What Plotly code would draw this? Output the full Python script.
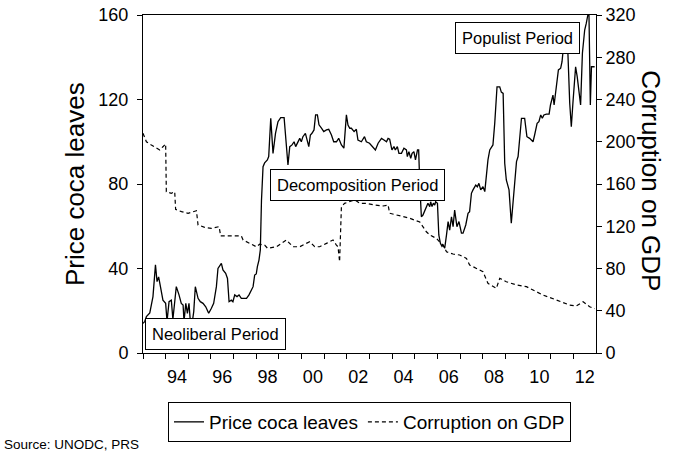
import plotly.graph_objects as go

# ---------------- data ----------------
price_year = [
    1993.00, 1993.08, 1993.15, 1993.30, 1993.44, 1993.55, 1993.62, 1993.69, 1993.77, 1993.88,
    1994.00, 1994.06, 1994.15, 1994.25, 1994.32, 1994.47, 1994.59, 1994.69, 1994.77, 1994.81,
    1994.89, 1994.96, 1995.03, 1995.09, 1995.18, 1995.24, 1995.31, 1995.43, 1995.53, 1995.65,
    1995.77, 1995.90, 1996.02, 1996.12, 1996.24, 1996.31, 1996.46, 1996.53, 1996.65, 1996.73,
    1996.80, 1996.90, 1996.97, 1997.05, 1997.15, 1997.24, 1997.34, 1997.45, 1997.57, 1997.68,
    1997.75, 1997.86, 1997.93, 1998.00, 1998.05, 1998.12, 1998.18, 1998.23, 1998.30, 1998.37,
    1998.49, 1998.55, 1998.64, 1998.74, 1998.85, 1998.96, 1999.08, 1999.23, 1999.40, 1999.48,
    1999.58, 1999.67, 1999.74, 1999.84, 1999.92, 1999.99, 2000.06, 2000.17, 2000.26, 2000.32,
    2000.39, 2000.46, 2000.55, 2000.62, 2000.70, 2000.77, 2000.88, 2000.98, 2001.10, 2001.20,
    2001.32, 2001.42, 2001.54, 2001.64, 2001.76, 2001.87, 2001.98, 2002.05, 2002.13, 2002.20,
    2002.32, 2002.42, 2002.49, 2002.64, 2002.78, 2002.86, 2003.00, 2003.15, 2003.26, 2003.38,
    2003.53, 2003.64, 2003.75, 2003.82, 2003.89, 2003.99, 2004.08, 2004.14, 2004.23, 2004.30,
    2004.41, 2004.52, 2004.63, 2004.67, 2004.74, 2004.82, 2004.88, 2004.96, 2005.03, 2005.12,
    2005.17, 2005.22, 2005.29, 2005.36, 2005.44, 2005.51, 2005.58, 2005.66, 2005.70, 2005.76,
    2005.82, 2005.88, 2005.92, 2006.00, 2006.06, 2006.13, 2006.20, 2006.25, 2006.32, 2006.40,
    2006.47, 2006.54, 2006.62, 2006.69, 2006.76, 2006.86, 2006.95, 2007.06, 2007.13, 2007.25,
    2007.35, 2007.42, 2007.50, 2007.57, 2007.69, 2007.76, 2007.83, 2007.91, 2008.01, 2008.09,
    2008.16, 2008.23, 2008.31, 2008.45, 2008.53, 2008.63, 2008.75, 2008.82, 2008.90, 2008.97,
    2009.04, 2009.16, 2009.26, 2009.34, 2009.41, 2009.49, 2009.56, 2009.63, 2009.71, 2009.85,
    2009.95, 2010.07, 2010.22, 2010.29, 2010.40, 2010.48, 2010.56, 2010.63, 2010.70, 2010.81,
    2010.93, 2010.99, 2011.06, 2011.10, 2011.15, 2011.22, 2011.28, 2011.34, 2011.44, 2011.50,
    2011.55, 2011.62, 2011.69, 2011.76, 2011.84, 2011.91, 2011.98, 2012.05, 2012.10, 2012.17,
    2012.24, 2012.32, 2012.40, 2012.50, 2012.57, 2012.64, 2012.69, 2012.75, 2012.80, 2012.94,
]
price_coca = [
    14.0, 15.0, 17.2, 19.0, 26.7, 41.7, 33.8, 36.0, 31.4, 25.0,
    23.5, 15.0, 24.3, 25.0, 16.0, 31.4, 27.5, 23.5, 22.7, 15.0,
    23.5, 18.8, 23.5, 15.0, 15.0, 19.6, 31.4, 25.9, 24.3, 23.5,
    21.9, 18.8, 21.2, 23.5, 31.4, 40.0, 42.4, 39.3, 37.7, 35.3,
    24.3, 25.0, 24.3, 27.5, 26.7, 27.5, 25.9, 25.9, 25.9, 27.5,
    29.0, 31.4, 36.9, 37.4, 40.9, 44.0, 48.8, 72.0, 88.2, 90.0,
    91.4, 93.0, 111.1, 94.5, 104.0, 109.5, 111.4, 111.4, 89.0, 97.7,
    98.5, 100.0, 97.7, 100.0, 101.6, 100.0, 102.4, 104.0, 100.8, 97.7,
    103.2, 104.0, 105.6, 112.7, 112.7, 108.0, 106.4, 104.8, 105.6, 105.9,
    103.2, 100.0, 100.0, 101.6, 98.5, 97.0, 112.7, 107.9, 106.4, 106.4,
    104.8, 105.9, 100.8, 100.0, 102.4, 100.0, 99.3, 97.7, 96.1, 99.3,
    101.6, 100.8, 100.0, 101.6, 101.2, 96.1, 97.7, 96.1, 97.7, 94.5,
    94.5, 96.9, 96.1, 93.0, 95.3, 92.1, 94.5, 95.3, 91.4, 96.1,
    96.1, 80.0, 64.5, 65.3, 67.7, 69.3, 70.9, 69.3, 71.6, 69.3,
    70.9, 70.0, 71.6, 70.9, 55.9, 51.9, 50.5, 51.1, 49.6, 55.9,
    62.2, 58.2, 64.5, 59.8, 67.7, 59.8, 62.2, 56.7, 56.7, 60.6,
    66.1, 66.9, 75.6, 77.2, 79.5, 78.7, 80.3, 77.2, 78.7, 76.4,
    84.3, 91.4, 96.1, 98.5, 108.8, 126.0, 126.0, 123.5, 122.9, 89.8,
    81.9, 77.2, 61.4, 70.9, 81.9, 90.6, 93.0, 102.4, 111.1, 111.1,
    102.4, 101.6, 100.0, 103.2, 108.7, 109.5, 112.7, 111.1, 112.7, 113.1,
    113.1, 117.4, 119.8, 122.1, 117.4, 124.5, 127.7, 134.0, 134.8, 137.9,
    143.4, 150.0, 149.8, 141.9, 118.2, 107.1, 118.2, 130.8, 135.5, 130.8,
    122.9, 117.4, 141.9, 152.9, 156.0, 160.0, 160.0, 117.4, 135.5, 135.5,
]

corr_year = [
    1993.00, 1993.15, 1993.37, 1993.59, 1993.74, 1993.88, 1994.00, 1994.03, 1994.25, 1994.40,
    1994.44, 1994.70, 1994.99, 1995.36, 1995.43, 1995.72, 1996.02, 1996.36, 1996.43, 1996.83,
    1997.34, 1997.42, 1997.71, 1998.00, 1998.15, 1998.37, 1998.50, 1998.89, 1999.11, 1999.33,
    1999.62, 1999.92, 2000.21, 2000.36, 2000.58, 2000.80, 2001.10, 2001.39, 2001.54, 2001.61,
    2001.68, 2001.76, 2001.90, 2002.13, 2002.35, 2002.57, 2002.86, 2003.23, 2003.60, 2003.82,
    2003.89, 2004.19, 2004.48, 2004.78, 2005.22, 2005.36, 2005.51, 2005.66, 2005.80, 2005.95,
    2006.10, 2006.25, 2006.40, 2006.69, 2006.98, 2007.28, 2007.42, 2007.72, 2008.01, 2008.23,
    2008.45, 2008.60, 2008.75, 2009.04, 2009.49, 2009.93, 2010.22, 2010.66, 2011.25, 2011.84,
    2012.13, 2012.43, 2012.72, 2012.94,
]
corruption_gdp = [
    208.0, 200.0, 196.9, 193.8, 192.2, 195.3, 197.9, 152.7, 151.2, 152.7,
    136.0, 133.8, 132.3, 134.7, 121.2, 119.0, 118.0, 119.6, 110.8, 110.8,
    110.8, 107.0, 103.9, 100.6, 103.0, 102.2, 99.1, 100.6, 103.8, 107.0,
    100.6, 100.6, 103.8, 105.4, 100.6, 100.6, 103.8, 107.0, 102.2, 100.6,
    86.4, 138.5, 141.7, 143.3, 144.9, 141.7, 141.7, 140.1, 139.2, 140.1,
    132.3, 130.7, 129.0, 127.5, 124.0, 119.0, 114.8, 111.7, 110.5, 108.6,
    105.0, 102.2, 95.9, 93.7, 92.8, 89.6, 83.3, 80.2, 77.0, 66.0,
    62.8, 61.2, 70.7, 67.5, 64.4, 62.8, 59.6, 54.9, 50.2, 45.4,
    44.5, 48.6, 43.8, 42.0,
]

year_starts = list(range(1993, 2013))
label_years = [1994, 1996, 1998, 2000, 2002, 2004, 2006, 2008, 2010, 2012]
tick_labels = ["94", "96", "98", "00", "02", "04", "06", "08", "10", "12"]
left_ticks = [0, 40, 80, 120, 160]
right_ticks = [0, 40, 80, 120, 160, 200, 240, 280, 320]

# ---------------- figure ----------------
FONT = "Liberation Sans, Arial, Helvetica, sans-serif"

fig = go.Figure()
fig.add_trace(go.Scatter(
    x=price_year, y=price_coca, name="Price coca leaves", mode="lines",
    line=dict(color="black", width=1.3), yaxis="y",
))
fig.add_trace(go.Scatter(
    x=corr_year, y=corruption_gdp, name="Corruption on GDP", mode="lines",
    line=dict(color="black", width=1.2, dash="4px,3px"), yaxis="y2",
))

fig.update_layout(
    width=683, height=452,
    margin=dict(l=143, r=87, t=15, b=99, autoexpand=False),
    paper_bgcolor="white", plot_bgcolor="white",
    font=dict(family=FONT, color="black", size=17),
    showlegend=True,
    legend=dict(
        orientation="h", x=0.5, xanchor="center", y=-0.145, yanchor="top",
        bordercolor="black", borderwidth=1, font=dict(size=19, family=FONT),
        bgcolor="white",
    ),
    xaxis=dict(
        range=[1993, 2013], showgrid=False, zeroline=False, automargin=False,
        showline=True, linecolor="black", linewidth=1, mirror=True,
        tickmode="array", tickvals=[y + 0.5 for y in label_years], ticktext=tick_labels,
        ticks="", tickfont=dict(size=18), ticklabelstandoff=7,
        minor=dict(tickmode="array", tickvals=year_starts, ticks="outside",
                   ticklen=5, tickcolor="black", tickwidth=1, showgrid=False),
    ),
    yaxis=dict(
        range=[0, 160], tickmode="array", tickvals=left_ticks, automargin=False,
        showgrid=False, zeroline=False, showline=True, linecolor="black", linewidth=1,
        ticks="outside", ticklen=5, tickcolor="black", tickfont=dict(size=18),
        ticklabelstandoff=5,
    ),
    yaxis2=dict(
        range=[0, 320], tickmode="array", tickvals=right_ticks, automargin=False,
        overlaying="y", side="right",
        showgrid=False, zeroline=False, showline=True, linecolor="black", linewidth=1,
        ticks="outside", ticklen=5, tickcolor="black", tickfont=dict(size=18),
    ),
)

box = dict(showarrow=False, bgcolor="white", bordercolor="black", borderwidth=1,
           borderpad=6, font=dict(size=16.5, family=FONT))
fig.add_annotation(text="Neoliberal Period", x=1996.21, y=9.0, xref="x", yref="y", **box)
fig.add_annotation(text="Decomposition Period", x=2002.48, y=79.3, xref="x", yref="y", **box)
fig.add_annotation(text="Populist Period", x=2009.54, y=149.3, xref="x", yref="y", **box)

fig.add_annotation(text="Price coca leaves", textangle=-90, x=-0.150, y=0.50,
                   xref="paper", yref="paper", xanchor="center", yanchor="middle",
                   showarrow=False, font=dict(size=26, family=FONT))
fig.add_annotation(text="Corruption on GDP", textangle=90, x=1.122, y=0.51,
                   xref="paper", yref="paper", xanchor="center", yanchor="middle",
                   showarrow=False, font=dict(size=26, family=FONT))
fig.add_annotation(text="Source: UNODC, PRS", x=-0.312, y=-0.272, xref="paper", yref="paper",
                   xanchor="left", yanchor="middle", showarrow=False,
                   font=dict(size=13.5, family=FONT))

fig.write_html("out.html", config={"displayModeBar": False, "staticPlot": True},
               post_script="document.body.style.margin='0px';")
